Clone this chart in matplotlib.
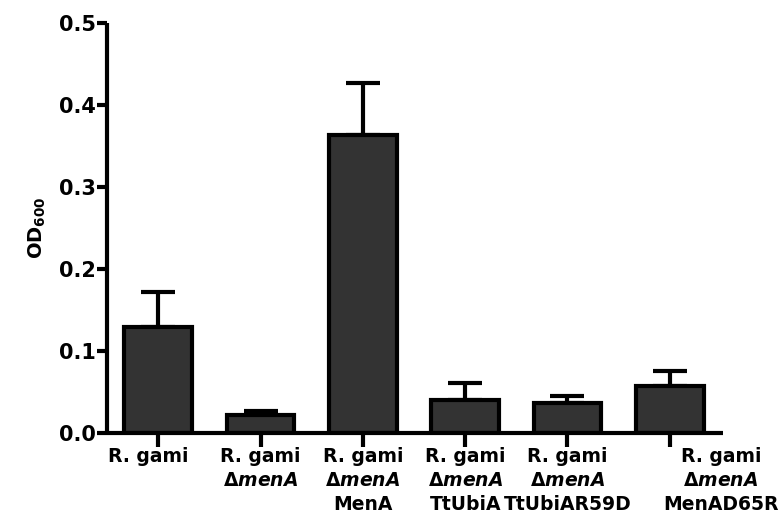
import matplotlib.pyplot as plt
import numpy as np

plt.rcParams['font.family'] = 'DejaVu Sans'
plt.rcParams['font.weight'] = 'bold'
plt.rcParams['mathtext.fontset'] = 'custom'
plt.rcParams['mathtext.rm'] = 'DejaVu Sans:bold'
plt.rcParams['mathtext.bf'] = 'DejaVu Sans:bold'
plt.rcParams['mathtext.it'] = 'DejaVu Sans:italic:bold'

# strain labels, one list of lines per bar
labels = [
    ['R. gami'],
    ['R. gami', r'$\mathrm{\Delta}$$\mathit{menA}$'],
    ['R. gami', r'$\mathrm{\Delta}$$\mathit{menA}$', 'MenA'],
    ['R. gami', r'$\mathrm{\Delta}$$\mathit{menA}$', 'TtUbiA'],
    ['R. gami', r'$\mathrm{\Delta}$$\mathit{menA}$', 'TtUbiAR59D'],
    ['R. gami', r'$\mathrm{\Delta}$$\mathit{menA}$', 'MenAD65R'],
]
od600 = [0.129, 0.021, 0.363, 0.040, 0.036, 0.057]
sem = [0.042, 0.005, 0.064, 0.020, 0.009, 0.018]
label_shift = [-0.1, 0, 0, 0, 0, 0.5]

x = np.arange(len(od600))

fig = plt.figure(figsize=(7.83, 5.15), dpi=100)
ax = fig.add_axes([0.1367, 0.1598, 0.7867, 0.7962])

ax.errorbar(x, od600, yerr=[np.zeros(len(sem)), sem], fmt='none',
            ecolor='black', elinewidth=3, capsize=12.5, capthick=3, zorder=1)
ax.bar(x, od600, width=0.66, color='#333333', edgecolor='black',
       linewidth=3, zorder=2)

ax.set_xlim(-0.5, 5.52)
ax.set_ylim(0, 0.5)
ax.set_yticks(np.arange(0, 0.51, 0.1))
ax.set_yticklabels(['%.1f' % v for v in np.arange(0, 0.51, 0.1)], fontsize=15)
ax.set_xticks(x)
ax.set_xticklabels([])

for s in ['top', 'right']:
    ax.spines[s].set_visible(False)
for s in ['left', 'bottom']:
    ax.spines[s].set_linewidth(3)
    ax.spines[s].set_capstyle('butt')
ax.tick_params(width=3, length=7, pad=1)
ax.tick_params(axis='x', length=10)

for i, lines in enumerate(labels):
    for j, line in enumerate(lines):
        ax.annotate(line, xy=(x[i] + label_shift[i], 0),
                    xycoords=('data', 'axes fraction'),
                    xytext=(0, -29 - 24 * j), textcoords='offset pixels',
                    ha='center', va='baseline', fontsize=13.5, fontweight='bold',
                    annotation_clip=False)

ax.set_ylabel(r'OD$_{\mathbf{600}}$', fontsize=14, fontweight='bold', labelpad=8)

fig.savefig('out.png', dpi=100)
